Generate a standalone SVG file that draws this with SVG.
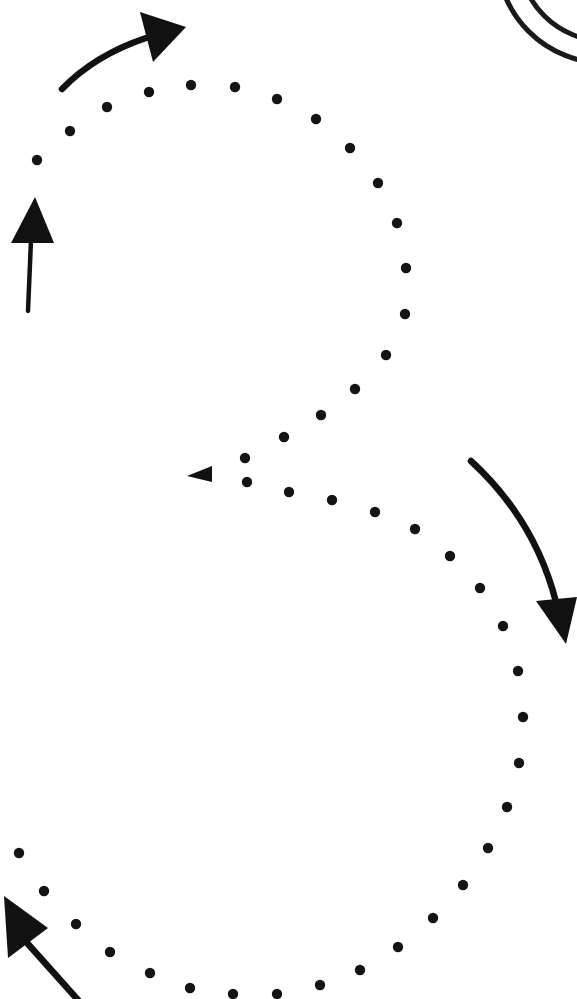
<svg xmlns="http://www.w3.org/2000/svg" width="577" height="999" viewBox="0 0 577 999">
<style>
.dot{fill:#141414}
.shaft{fill:none;stroke:#111;stroke-width:6.5;stroke-linecap:round}
.thin{stroke-width:4.5}
.head{fill:#111}
.ring{fill:none;stroke:#1a1a1a;stroke-width:5}
</style>
<defs>
<circle id="d" r="5.2" class="dot"/>
</defs>
<rect width="577" height="999" fill="#fff"/>
<g id="rings">
<circle class="ring" cx="605" cy="-45" r="108"/>
<circle class="ring" cx="605" cy="-45" r="86"/>
</g>
<g id="dotted-three">
<use href="#d" x="37" y="160"/><use href="#d" x="70" y="131"/><use href="#d" x="107" y="107"/><use href="#d" x="149" y="92"/><use href="#d" x="191" y="85"/><use href="#d" x="235" y="87"/><use href="#d" x="277" y="99"/><use href="#d" x="316" y="119"/><use href="#d" x="350" y="148"/><use href="#d" x="378" y="183"/><use href="#d" x="397" y="223"/><use href="#d" x="406" y="268"/><use href="#d" x="405" y="314"/><use href="#d" x="386" y="355"/><use href="#d" x="355" y="389"/><use href="#d" x="321" y="415"/><use href="#d" x="284" y="437"/><use href="#d" x="245" y="458"/>
<use href="#d" x="247" y="482"/><use href="#d" x="289" y="492"/><use href="#d" x="332" y="500"/><use href="#d" x="375" y="512"/><use href="#d" x="415" y="529"/><use href="#d" x="450" y="556"/><use href="#d" x="480" y="588"/><use href="#d" x="503" y="626"/><use href="#d" x="518" y="671"/><use href="#d" x="523" y="717"/><use href="#d" x="519" y="763"/><use href="#d" x="507" y="807"/><use href="#d" x="488" y="848"/><use href="#d" x="463" y="885"/><use href="#d" x="433" y="918"/><use href="#d" x="398" y="947"/><use href="#d" x="360" y="970"/><use href="#d" x="320" y="985"/><use href="#d" x="277" y="994"/><use href="#d" x="233" y="994"/><use href="#d" x="190" y="988"/><use href="#d" x="150" y="973"/><use href="#d" x="110" y="952"/><use href="#d" x="76" y="924"/><use href="#d" x="44" y="891"/><use href="#d" x="19" y="853"/>
</g>
<g id="connectors">
<path class="shaft" d="M62,89 Q95,55 146,38"/>
<polygon class="head" points="140,12 186,27 153,62"/>
<path class="shaft thin" d="M28,311 L31,240"/>
<polygon class="head" points="35,197 11,243 54,243"/>
<polygon class="head" points="187,476 212,466 212,482"/>
<path class="shaft" d="M471,461 Q535,520 556,602"/>
<polygon class="head" points="536,601 577,597 566,644"/>
<path class="shaft" d="M78,1000 L28,944"/>
<polygon class="head" points="4,896 48,928 8,958"/>
</g>
</svg>
